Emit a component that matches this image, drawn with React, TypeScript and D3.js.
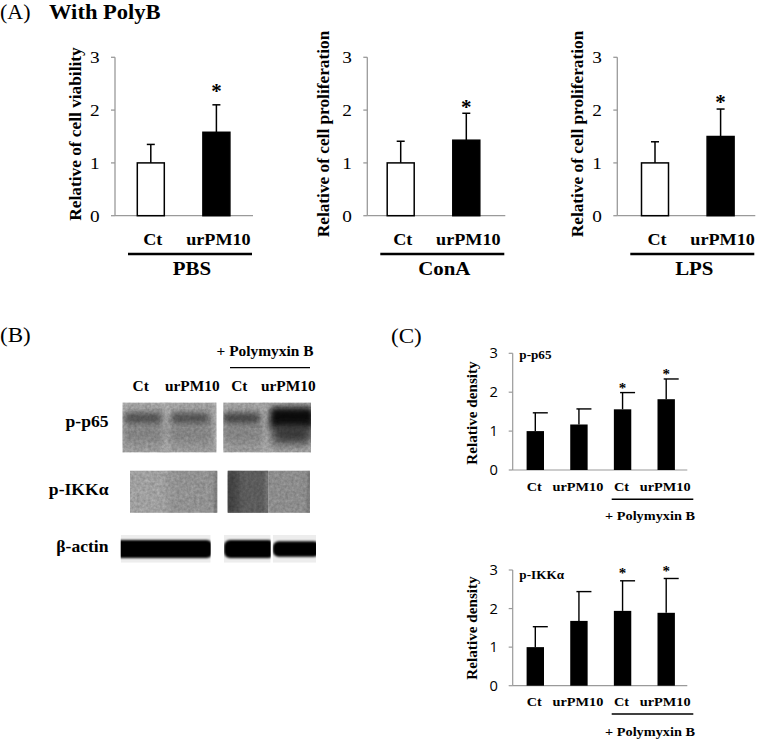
import React from "react";
import * as d3 from "d3";

const SERIF = "'Liberation Serif','Times New Roman',Times,serif";
const SANS = "'Open Sans','Liberation Sans',Arial,sans-serif";
const SX = 1.1;

// ---------- Panel A data ----------
const A_CATEGORIES = ["Ct", "urPM10"];
const A_GROUPS = ["PBS", "ConA", "LPS"];
const A_Y_TITLES = ["Relative of cell viability", "Relative of cell proliferation", "Relative of cell proliferation"];
const A_MEANS = [[1.0, 1.58], [1.0, 1.43], [1.0, 1.5]];
const A_ERRORS = [[0.35, 0.52], [0.41, 0.51], [0.4, 0.52]];
const A_SIGNIFICANT = [false, true];
const A_TICKS = [0, 1, 2, 3];

// ---------- Panel B data ----------
const B_LANES = ["Ct", "urPM10", "Ct", "urPM10"];
const B_ROWS = ["p-p65", "p-IKKα", "β-actin"];
const B_TREATMENT = "+ Polymyxin B";
const B_P65_BAND = [0.55, 0.55, 0.62, 1.0];
const B_IKK_SHADE = [0.04, 0.13, 0.45, 0.16];
const B_ACTIN_BAND = [1.0, 1.0, 1.0, 0.85];

// ---------- Panel C data ----------
const C_CATEGORIES = ["Ct", "urPM10", "Ct+", "urPM10+"];
const C_LABELS = ["Ct", "urPM10", "Ct", "urPM10"];
const C_TREATMENT = "+ Polymyxin B";
const C_P65_MEANS = [1.0, 1.17, 1.56, 1.82];
const C_P65_ERRORS = [0.47, 0.4, 0.43, 0.52];
const C_IKK_MEANS = [1.0, 1.68, 1.94, 1.89];
const C_IKK_ERRORS = [0.53, 0.76, 0.78, 0.89];
const C_SIGNIFICANT = [false, false, true, true];
const C_TICKS = [0, 1, 2, 3];

type TP = {
  x: number; y: number; size: number; bold?: boolean; anchor?: string;
  family?: string; sx?: number; children: React.ReactNode;
};
function HText({ x, y, size, bold = false, anchor = "middle", family = SERIF, sx = SX, children }: TP) {
  return (
    <text
      transform={`translate(${x},${y}) scale(${sx},1)`}
      fontSize={size}
      fontWeight={bold ? 700 : 400}
      textAnchor={anchor as any}
      fontFamily={family}
      fill="#000"
    >
      {children}
    </text>
  );
}

const AXIS_COLOR = "#9a9a9a";

// ---------- Panel A chart ----------
const A_AXIS_X = [115, 367.3, 617.3];
const A_OFF = [35.8, 33.4, 37.7];
const A_TITLE_DX = [-34, -38, -34];
const A_STAR_GAP = [16.5, 9.5, 10.5];

function ChartA({ k }: { k: number }) {
  const ax = A_AXIS_X[k];
  const y = d3.scaleLinear().domain([0, 3]).range([215.7, 57.3]);
  const x = d3.scalePoint<string>().domain(A_CATEGORIES).range([ax + A_OFF[k], ax + A_OFF[k] + 65.6]);
  const bw = 27;
  return (
    <g>
      <line x1={ax} x2={ax} y1={y(3)} y2={y(0)} stroke={AXIS_COLOR} strokeWidth={1.3} />
      <line x1={ax} x2={ax + 138} y1={y(0)} y2={y(0)} stroke={AXIS_COLOR} strokeWidth={1.3} />
      {A_TICKS.map((t) => (
        <g key={t}>
          <line x1={ax - 4} x2={ax} y1={y(t)} y2={y(t)} stroke={AXIS_COLOR} strokeWidth={1.3} />
          <HText x={ax - 15.5} y={y(t) + 6} size={17.5} anchor="end">{String(t)}</HText>
        </g>
      ))}
      <text
        transform={`translate(${ax + A_TITLE_DX[k]},134) rotate(-90)`}
        fontSize={17.3}
        fontWeight={700}
        fontFamily={SERIF}
        textAnchor="middle"
      >
        {A_Y_TITLES[k]}
      </text>
      {A_CATEGORIES.map((c, i) => {
        const cx = x(c)!;
        const m = A_MEANS[k][i];
        const e = A_ERRORS[k][i];
        const top = y(m + e);
        return (
          <g key={c}>
            <line x1={cx} x2={cx} y1={y(m)} y2={top} stroke="#000" strokeWidth={1.5} />
            <line x1={cx - 4} x2={cx + 4} y1={top} y2={top} stroke="#000" strokeWidth={1.5} />
            <rect
              x={cx - bw / 2}
              y={y(m)}
              width={bw}
              height={y(0) - y(m)}
              fill={i === 0 ? "#fff" : "#000"}
              stroke="#000"
              strokeWidth={1.5}
            />
            {A_SIGNIFICANT[i] && (
              <HText x={cx} y={top - A_STAR_GAP[k] + 10} size={21} bold sx={1}>*</HText>
            )}
            <HText x={cx + 2} y={245} size={16.5} bold>{c}</HText>
          </g>
        );
      })}
      <line x1={ax + 13} x2={ax + 137} y1={254} y2={254} stroke="#000" strokeWidth={2.5} />
      <HText x={ax + 77} y={274.5} size={19} bold>{A_GROUPS[k]}</HText>
    </g>
  );
}

// ---------- Panel C chart ----------
type CProps = {
  means: number[]; errors: number[]; y0: number; y3: number; label: string;
  labelY: number; catY: number; lineY: number; groupY: number; titleY: number; starLift: number;
};
function ChartC({ means, errors, y0, y3, label, labelY, catY, lineY, groupY, titleY, starLift }: CProps) {
  const ax = 512.7;
  const y = d3.scaleLinear().domain([0, 3]).range([y0, y3]);
  const x = d3.scalePoint<string>().domain(C_CATEGORIES).range([535.3, 666.2]);
  const bw = 17.4;
  return (
    <g>
      <line x1={ax} x2={ax} y1={y(3)} y2={y(0)} stroke={AXIS_COLOR} strokeWidth={1.2} />
      <line x1={ax} x2={687.3} y1={y(0)} y2={y(0)} stroke={AXIS_COLOR} strokeWidth={1.2} />
      {C_TICKS.map((t) => (
        <g key={t}>
          <line x1={ax - 4} x2={ax} y1={y(t)} y2={y(t)} stroke={AXIS_COLOR} strokeWidth={1.2} />
          <HText x={498} y={y(t) + 5} size={14} anchor="end" family={SANS} sx={1.05}>{String(t)}</HText>
        </g>
      ))}
      <text
        transform={`translate(476.5,${titleY}) rotate(-90)`}
        fontSize={15.2}
        fontWeight={700}
        fontFamily={SERIF}
        textAnchor="middle"
      >
        Relative density
      </text>
      <HText x={519.3} y={labelY} size={12} bold anchor="start">{label}</HText>
      {C_CATEGORIES.map((c, i) => {
        const cx = x(c)!;
        const m = means[i];
        const e = errors[i];
        const top = y(m + e);
        return (
          <g key={c}>
            <line x1={cx} x2={cx} y1={y(m)} y2={top} stroke="#000" strokeWidth={1.4} />
            <line x1={cx - 2.5} x2={cx + 12.5} y1={top} y2={top} stroke="#000" strokeWidth={1.4} />
            <rect x={cx - bw / 2} y={y(m)} width={bw} height={y(0) - y(m)} fill="#000" />
            {C_SIGNIFICANT[i] && (
              <HText x={cx} y={top - starLift} size={15} bold sx={1}>*</HText>
            )}
            <HText x={cx - 1} y={catY} size={13} bold>{C_LABELS[i]}</HText>
          </g>
        );
      })}
      <line x1={611.7} x2={693.3} y1={lineY} y2={lineY} stroke="#000" strokeWidth={1.4} />
      <HText x={650} y={groupY} size={13} bold>{C_TREATMENT}</HText>
    </g>
  );
}

// ---------- Panel B blots ----------
const gray = d3.interpolateRgb("#c4c4c4", "#000000");

type Box = { x0: number; x1: number; lanes: number[] };
const P65_BOXES: Box[] = [
  { x0: 122.5, x1: 216.5, lanes: [0, 1] },
  { x0: 223.3, x1: 311, lanes: [2, 3] },
];
const P65_LANE_X = [143, 190, 241, 292];
const IKK_BOXES: Box[] = [
  { x0: 130, x1: 217.3, lanes: [0, 1] },
  { x0: 227.7, x1: 268.3, lanes: [2] },
  { x0: 268.3, x1: 310, lanes: [3] },
];
const ACT_BOXES: Box[] = [
  { x0: 120.7, x1: 210.7, lanes: [0, 1] },
  { x0: 224, x1: 270.7, lanes: [2] },
  { x0: 272.7, x1: 316, lanes: [3] },
];

function Blots() {
  const p65Y = [402.5, 452.5];
  const ikkY = [470.7, 512.7];
  const actY = [535, 562.7];
  return (
    <g>
      <defs>
        <filter id="blur3" x="-50%" y="-50%" width="200%" height="200%">
          <feGaussianBlur stdDeviation="3" />
        </filter>
        <filter id="blur5" x="-50%" y="-50%" width="200%" height="200%">
          <feGaussianBlur stdDeviation="5" />
        </filter>
        <filter id="blur1" x="-50%" y="-50%" width="200%" height="200%">
          <feGaussianBlur stdDeviation="1.2" />
        </filter>
        <filter id="grain" x="0" y="0" width="100%" height="100%">
          <feTurbulence type="fractalNoise" baseFrequency="0.35" numOctaves="2" seed="4" />
          <feColorMatrix type="matrix" values="0 0 0 0 0  0 0 0 0 0  0 0 0 0 0  0 0 0 0.3 0" />
        </filter>
        <linearGradient id="p65bg" x1="0" y1="0" x2="0" y2="1">
          <stop offset="0" stopColor="#bdbdbd" />
          <stop offset="0.5" stopColor="#a6a6a6" />
          <stop offset="1" stopColor="#b5b5b5" />
        </linearGradient>
        {[...P65_BOXES.map((b, i) => ({ b, id: `cp65-${i}`, yy: p65Y })),
          ...IKK_BOXES.map((b, i) => ({ b, id: `cikk-${i}`, yy: ikkY })),
          ...ACT_BOXES.map((b, i) => ({ b, id: `cact-${i}`, yy: actY }))].map(({ b, id, yy }) => (
          <clipPath id={id} key={id}>
            <rect x={b.x0} y={yy[0]} width={b.x1 - b.x0} height={yy[1] - yy[0]} />
          </clipPath>
        ))}
      </defs>

      {/* p-p65 */}
      {P65_BOXES.map((b, i) => (
        <g key={`p${i}`} clipPath={`url(#cp65-${i})`}>
          <rect x={b.x0} y={p65Y[0]} width={b.x1 - b.x0} height={p65Y[1] - p65Y[0]} fill="url(#p65bg)" />
          <rect x={b.x0 - 4} y={p65Y[0]} width={6} height={50} fill="#cfcfcf" filter="url(#blur3)" />
          <rect x={b.x1 - 2} y={p65Y[0]} width={6} height={50} fill="#cfcfcf" filter="url(#blur3)" />
          <rect x={(P65_LANE_X[b.lanes[0]] + P65_LANE_X[b.lanes[1]]) / 2 - 3} y={p65Y[0] - 5} width={6} height={60} fill="#cbcbcb" filter="url(#blur3)" />
          {b.lanes.map((l) => {
            const d = B_P65_BAND[l];
            const h = 9 + Math.max(0, d - 0.6) * 30;
            return (
              <g key={l}>
                <rect x={P65_LANE_X[l] - 20} y={426} width={40} height={16} fill="#999" filter="url(#blur5)" />
                <rect
                  x={P65_LANE_X[l] - 19 - (d > 0.8 ? 3 : 0)}
                  y={418 - h / 2}
                  width={38 + (d > 0.8 ? 6 : 0)}
                  height={h}
                  rx={4}
                  fill={gray(d * 0.85 + 0.1)}
                  filter="url(#blur3)"
                />
                {d > 0.8 && (
                  <rect x={P65_LANE_X[l] - 18} y={426} width={36} height={16} fill="#3c3c3c" filter="url(#blur5)" />
                )}
              </g>
            );
          })}
          <rect x={b.x0} y={p65Y[0]} width={b.x1 - b.x0} height={50} filter="url(#grain)" />
        </g>
      ))}

      {/* p-IKKα */}
      {IKK_BOXES.map((b, i) => {
        const w = (b.x1 - b.x0) / b.lanes.length;
        return (
          <g key={`i${i}`} clipPath={`url(#cikk-${i})`}>
            <rect x={b.x0} y={ikkY[0]} width={b.x1 - b.x0} height={ikkY[1] - ikkY[0]} fill={gray(B_IKK_SHADE[b.lanes[0]])} />
            {b.lanes.map((l, j) => (
              <rect
                key={l}
                x={b.x0 + j * w - (j > 0 ? 6 : 4)}
                y={ikkY[0] - 6}
                width={w + 10}
                height={ikkY[1] - ikkY[0] + 12}
                fill={gray(B_IKK_SHADE[l])}
                filter="url(#blur5)"
              />
            ))}
            {B_IKK_SHADE[b.lanes[0]] > 0.3 && (
              <rect x={b.x0 - 4} y={ikkY[0]} width={14} height={44} fill="#4a4a4a" filter="url(#blur5)" />
            )}
            <rect x={b.x1 - 3} y={ikkY[0]} width={3} height={44} fill="#8a8a8a" filter="url(#blur1)" />
            <rect x={b.x0} y={ikkY[0]} width={b.x1 - b.x0} height={44} filter="url(#grain)" />
          </g>
        );
      })}

      {/* β-actin */}
      {ACT_BOXES.map((b, i) => {
        const d = d3.max(b.lanes.map((l) => B_ACTIN_BAND[l]))!;
        const h = 18 * d;
        return (
          <g key={`a${i}`} clipPath={`url(#cact-${i})`}>
            <rect x={b.x0} y={actY[0]} width={b.x1 - b.x0} height={actY[1] - actY[0]} fill="#ededed" />
            <rect
              x={b.x0 + (b.lanes.length > 1 ? -6 : 0)}
              y={549 - h / 2}
              width={b.x1 - b.x0 + (b.lanes.length > 1 ? 8 : 4)}
              height={h}
              rx={6}
              fill="#050505"
              filter="url(#blur1)"
            />
          </g>
        );
      })}
    </g>
  );
}

function PanelB() {
  const laneX = [140.7, 192.3, 239.3, 288.3];
  const rowY = [427, 495, 552];
  return (
    <g>
      <HText x={0} y={342} size={21} anchor="start">(B)</HText>
      <HText x={265} y={356} size={14} bold>{B_TREATMENT}</HText>
      <line x1={230} x2={310} y1={367.7} y2={367.7} stroke="#000" strokeWidth={1.3} />
      {B_LANES.map((l, i) => (
        <HText key={i} x={laneX[i]} y={391} size={14} bold>{l}</HText>
      ))}
      {B_ROWS.map((r, i) => (
        <HText key={r} x={108.5} y={rowY[i]} size={16} bold anchor="end">{r}</HText>
      ))}
      <Blots />
    </g>
  );
}

export default function App() {
  return (
    <svg
      width={761}
      height={739}
      viewBox="0 0 761 739"
      style={{ position: "absolute", left: 0, top: 0, background: "#fff" }}
    >
      <rect x={0} y={0} width={761} height={739} fill="#fff" />
      {/* Panel A */}
      <HText x={0} y={19} size={20} anchor="start">(A)</HText>
      <HText x={49} y={19} size={20.5} bold anchor="start">With PolyB</HText>
      {A_GROUPS.map((_, k) => (
        <ChartA key={k} k={k} />
      ))}
      {/* Panel B */}
      <PanelB />
      {/* Panel C */}
      <HText x={391} y={343} size={21} anchor="start">(C)</HText>
      <ChartC
        means={C_P65_MEANS}
        errors={C_P65_ERRORS}
        y0={470}
        y3={353.3}
        label="p-p65"
        labelY={359}
        catY={490.5}
        lineY={499.3}
        groupY={519.5}
        titleY={413}
        starLift={0}
      />
      <ChartC
        means={C_IKK_MEANS}
        errors={C_IKK_ERRORS}
        y0={685.7}
        y3={570}
        label="p-IKKα"
        labelY={578.5}
        catY={706}
        lineY={714}
        groupY={736}
        titleY={628}
        starLift={2.5}
      />
    </svg>
  );
}
